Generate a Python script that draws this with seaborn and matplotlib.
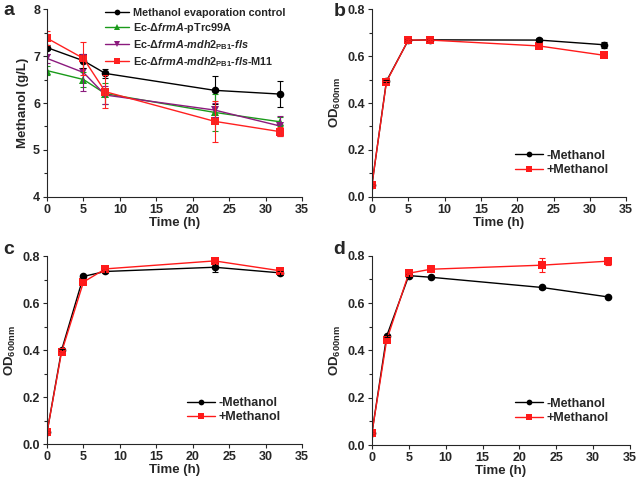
import numpy as np
import pandas as pd
import matplotlib
matplotlib.use("Agg")
import matplotlib.pyplot as plt
from matplotlib.ticker import AutoMinorLocator, MultipleLocator
import seaborn as sns

sns.set_style("ticks")
plt.rcParams['font.family'] = ['Liberation Sans', 'DejaVu Sans']
plt.rcParams['font.weight'] = 'bold'
plt.rcParams['axes.labelweight'] = 'bold'
plt.rcParams['mathtext.fontset'] = 'custom'
plt.rcParams['mathtext.rm'] = 'Liberation Sans:bold'
plt.rcParams['mathtext.it'] = 'Liberation Sans:italic:bold'
plt.rcParams['mathtext.bf'] = 'Liberation Sans:bold'

# ---- Panel a data ----
time_a = [0, 5, 8, 23, 32]
ctrl = [7.18, 6.90, 6.63, 6.27, 6.19]
ctrl_err = [0.05, 0.15, 0.10, 0.30, 0.28]
ptrc = [6.69, 6.50, 6.20, 5.80, 5.60]
ptrc_err = [0.10, 0.15, 0.22, 0.40, 0.10]
mdh = [6.95, 6.65, 6.17, 5.85, 5.51]
mdh_err = [0.10, 0.40, 0.20, 0.15, 0.22]
m11 = [7.38, 6.95, 6.24, 5.61, 5.39]
m11_err = [0.15, 0.35, 0.35, 0.44, 0.10]
labels_a = ["Methanol evaporation control",
            r"Ec-Δ$\it{frmA}$-pTrc99A",
            r"Ec-Δ$\it{frmA}$-$\it{mdh2}_{\rm{PB1}}$-$\it{fls}$",
            r"Ec-Δ$\it{frmA}$-$\it{mdh2}_{\rm{PB1}}$-$\it{fls}$-M11"]

# ---- OD panels ----
time_od = [0, 2, 5, 8, 23, 32]
b_minus = [0.05, 0.493, 0.667, 0.669, 0.668, 0.648]
b_minus_err = [0.0, 0.005, 0.005, 0.005, 0.008, 0.013]
b_plus = [0.05, 0.490, 0.668, 0.668, 0.643, 0.603]
b_plus_err = [0.0, 0.005, 0.005, 0.005, 0.005, 0.005]
c_minus = [0.05, 0.400, 0.714, 0.735, 0.753, 0.729]
c_minus_err = [0.0, 0.005, 0.005, 0.005, 0.020, 0.008]
c_plus = [0.05, 0.392, 0.690, 0.746, 0.780, 0.738]
c_plus_err = [0.0, 0.005, 0.005, 0.005, 0.008, 0.005]
d_minus = [0.05, 0.460, 0.716, 0.709, 0.666, 0.626]
d_minus_err = [0.0, 0.005, 0.005, 0.005, 0.008, 0.005]
d_plus = [0.05, 0.443, 0.726, 0.743, 0.760, 0.777]
d_plus_err = [0.0, 0.008, 0.005, 0.005, 0.030, 0.015]
labels_od = ["-Methanol", "+Methanol"]

fig = plt.figure(figsize=(6.39, 4.78), dpi=100)
axa = fig.add_axes([0.0736, 0.588, 0.399, 0.393])
axb = fig.add_axes([0.582, 0.588, 0.398, 0.393])
axc = fig.add_axes([0.0736, 0.071, 0.399, 0.393])
axd = fig.add_axes([0.582, 0.069, 0.404, 0.396])

def style_ax(ax, ylim, ymajor, ylabel):
    ax.set_xlim(0, 35)
    ax.set_ylim(*ylim)
    ax.xaxis.set_major_locator(MultipleLocator(5))
    ax.yaxis.set_major_locator(MultipleLocator(ymajor))
    ax.yaxis.set_minor_locator(AutoMinorLocator(2))
    ax.tick_params(axis='both', which='major', labelsize=9, length=3, width=0.8, direction='out', pad=2)
    ax.tick_params(axis='y', which='minor', length=2, width=0.8, direction='out')
    for lab in ax.get_xticklabels() + ax.get_yticklabels():
        lab.set_fontweight('bold')
    sns.despine(ax=ax)
    ax.set_xlabel("Time (h)", fontsize=9.5, fontweight='bold', labelpad=1)
    ax.set_ylabel(ylabel, fontsize=9.5, fontweight='bold', labelpad=3)

# Panel a
series_a = [ctrl, ptrc, mdh, m11]
errs_a = [ctrl_err, ptrc_err, mdh_err, m11_err]
colors_a = ["#000000", "#1a9a1a", "#8b1a7d", "#ff2020"]
markers_a = ["o", "^", "v", "s"]
df_a = pd.concat([pd.DataFrame({"t": time_a, "v": s, "g": l}) for s, l in zip(series_a, labels_a)])
sns.lineplot(data=df_a, x="t", y="v", hue="g", style="g", ax=axa,
             palette=dict(zip(labels_a, colors_a)), markers=dict(zip(labels_a, markers_a)),
             dashes=False, markersize=5.5, linewidth=1, markeredgewidth=0, legend=True)
for s, e, c in zip(series_a, errs_a, colors_a):
    axa.errorbar(time_a, s, yerr=e, fmt='none', ecolor=c, elinewidth=0.8, capsize=2, capthick=0.8)
style_ax(axa, (4, 8), 1, "Methanol (g/L)")
leg = axa.legend(loc='upper right', bbox_to_anchor=(0.975, 1.06), frameon=False, fontsize=7.8,
                 handlelength=2.2, handletextpad=0.4, labelspacing=0.3, markerscale=0.75)
for t in leg.get_texts():
    t.set_fontweight('bold')

def od_panel(ax, minus, minus_err, plus, plus_err, xanchor):
    df = pd.concat([pd.DataFrame({"t": time_od, "v": minus, "g": labels_od[0]}),
                    pd.DataFrame({"t": time_od, "v": plus, "g": labels_od[1]})])
    sns.lineplot(data=df, x="t", y="v", hue="g", style="g", ax=ax,
                 palette={labels_od[0]: "#000000", labels_od[1]: "#ff1a1a"},
                 markers={labels_od[0]: "o", labels_od[1]: "s"},
                 dashes=False, markersize=5.5, linewidth=1, markeredgewidth=0)
    ax.errorbar(time_od, minus, yerr=minus_err, fmt='none', ecolor="#000000", elinewidth=0.8, capsize=2, capthick=0.8)
    ax.errorbar(time_od, plus, yerr=plus_err, fmt='none', ecolor="#ff1a1a", elinewidth=0.8, capsize=2, capthick=0.8)
    style_ax(ax, (0, 0.8), 0.2, r"OD$_{\rm{600nm}}$")
    lg = ax.legend(loc='lower right', bbox_to_anchor=(xanchor, 0.05), frameon=False, fontsize=9,
                   handlelength=2.2, handletextpad=0.3, labelspacing=0.2, markerscale=0.75)
    for t in lg.get_texts():
        t.set_fontweight('bold')

od_panel(axb, b_minus, b_minus_err, b_plus, b_plus_err, 0.975)
od_panel(axc, c_minus, c_minus_err, c_plus, c_plus_err, 0.96)
od_panel(axd, d_minus, d_minus_err, d_plus, d_plus_err, 0.96)

fig.text(0.005, 0.978, "a", fontsize=14, fontweight='bold', va='center')
fig.text(0.522, 0.975, "b", fontsize=14, fontweight='bold', va='center')
fig.text(0.005, 0.478, "c", fontsize=14, fontweight='bold', va='center')
fig.text(0.522, 0.478, "d", fontsize=14, fontweight='bold', va='center')

fig.savefig("out.png", dpi=100, facecolor='white')
